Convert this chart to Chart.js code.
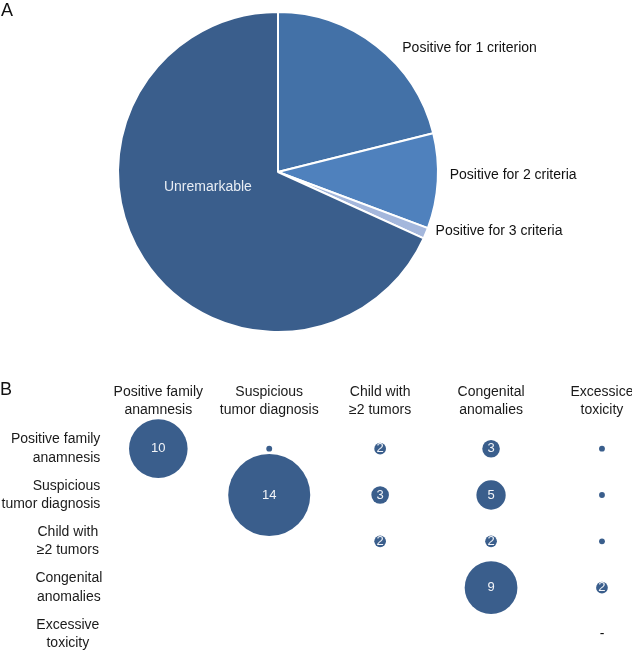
<!DOCTYPE html>
<html><head><meta charset="utf-8">
<script src="https://cdn.jsdelivr.net/npm/chart.js@4"></script>
<style>
html,body{margin:0;padding:0;background:#fff;width:632px;height:651px;overflow:hidden;position:relative;}
canvas{position:absolute;left:0;}
.panel{position:absolute;font-family:"Liberation Sans",Arial,sans-serif;font-size:18px;line-height:18px;color:#111;z-index:2;}
</style></head><body>
<canvas id="pie" width="632" height="355" style="top:0"></canvas>
<canvas id="bub" width="632" height="291" style="top:360px"></canvas>
<div class="panel" style="left:1px;top:1px">A</div>
<div class="panel" style="left:0px;top:380px">B</div>
<script>
// ---- Panel A data ----
const pieLabels = ['Positive for 1 criterion', 'Positive for 2 criteria', 'Positive for 3 criteria', 'Unremarkable'];
const piePercent = [21.1, 9.6, 1.1, 68.2];

// ---- Panel B data ----
const colLabels = [['Positive family', 'anamnesis'], ['Suspicious', 'tumor diagnosis'], ['Child with', '≥2 tumors'], ['Congenital', 'anomalies'], ['Excessice', 'toxicity']];
const rowLabels = [['Positive family', 'anamnesis'], ['Suspicious', 'tumor diagnosis'], ['Child with', '≥2 tumors'], ['Congenital', 'anomalies'], ['Excessive', 'toxicity']];
const rowPositiveFamily = [10, 1, 2, 3, 1];
const rowSuspicious     = [null, 14, 3, 5, 1];
const rowChildTwoTumors = [null, null, 2, 2, 1];
const rowCongenital     = [null, null, null, 9, 2];
const rowToxicity       = [null, null, null, null, 0];

// ---- styles ----
const FONT = '"Liberation Sans", Arial, sans-serif';
const pieColors = ['#4371A7', '#4F81BD', '#A4B7DC', '#3A5E8C'];
const pieLabelStyle = [
  {rf: 1, dx: 25.8, dy: 2.1, align: 'left', color: '#111'},
  {rf: 1, dx: 12, dy: -6, align: 'left', color: '#111'},
  {rf: 1, dx: 9.8, dy: -2.2, align: 'left', color: '#111'},
  {rf: 0.5, dx: -2.8, dy: -28.6, align: 'center', color: '#E8EDF4'}
];
const rowLabelStyle = [
  {align: 'right', gap: 2.5}, {align: 'right', gap: 2.5},
  {align: 'center', gap: 35}, {align: 'center', gap: 34}, {align: 'center', gap: 35}
];
const BUBBLE_COLOR = '#3A5E8C';
const RADIUS_PER_COUNT = 2.93;
const LINE_H = 18.4;

const pieLabelPlugin = {
  id: 'pieLabels',
  afterDatasetsDraw(chart) {
    const ctx = chart.ctx;
    chart.getDatasetMeta(0).data.forEach((arc, i) => {
      const p = arc.getProps(['x', 'y', 'startAngle', 'endAngle', 'outerRadius'], true);
      const mid = (p.startAngle + p.endAngle) / 2;
      const st = pieLabelStyle[i];
      const r = p.outerRadius * st.rf;
      ctx.save();
      ctx.font = '14px ' + FONT;
      ctx.fillStyle = st.color;
      ctx.textAlign = st.align;
      ctx.textBaseline = 'middle';
      ctx.fillText(pieLabels[i], p.x + Math.cos(mid) * r + st.dx, p.y + Math.sin(mid) * r + st.dy);
      ctx.restore();
    });
  }
};

new Chart(document.getElementById('pie'), {
  type: 'pie',
  data: {labels: pieLabels, datasets: [{data: piePercent, backgroundColor: pieColors, borderColor: '#fff', borderWidth: 2}]},
  options: {
    responsive: false, animation: false, radius: 160,
    layout: {autoPadding: false, padding: {left: 118, top: 12, right: 194, bottom: 23}},
    plugins: {legend: {display: false}, tooltip: {enabled: false}}
  },
  plugins: [pieLabelPlugin]
});

const allRows = [rowPositiveFamily, rowSuspicious, rowChildTwoTumors, rowCongenital, rowToxicity];
const bubData = [];
allRows.forEach((row, ri) => row.forEach((v, ci) => {
  if (v !== null) bubData.push({x: ci, y: ri, r: v * RADIUS_PER_COUNT, v: v});
}));

const bubbleLabelPlugin = {
  id: 'bubbleLabels',
  afterDatasetsDraw(chart) {
    const ctx = chart.ctx;
    const ds = chart.data.datasets[0].data;
    chart.getDatasetMeta(0).data.forEach((pt, i) => {
      const v = ds[i].v;
      if (v === 1) return;
      ctx.save();
      ctx.textAlign = 'center';
      ctx.textBaseline = 'middle';
      if (v === 0) {
        ctx.font = '14px ' + FONT;
        ctx.fillStyle = '#111';
        ctx.fillText('-', pt.x, pt.y);
      } else {
        ctx.font = '13px ' + FONT;
        ctx.fillStyle = '#F2F4F8';
        ctx.fillText(String(v), pt.x, pt.y);
      }
      ctx.restore();
    });
  }
};

// row (y-axis) tick labels: positioned by the y scale, with per-row alignment as in the original
const rowTickPlugin = {
  id: 'rowTicks',
  afterDraw(chart) {
    const ctx = chart.ctx, ys = chart.scales.y;
    ctx.save();
    ctx.font = '14px ' + FONT;
    ctx.fillStyle = '#1a1a1a';
    ctx.textBaseline = 'middle';
    ys.ticks.forEach((t, i) => {
      const lines = rowLabels[t.value];
      const st = rowLabelStyle[t.value];
      const y0 = ys.getPixelForValue(t.value) - (lines.length - 1) * LINE_H / 2;
      ctx.textAlign = st.align;
      const x = ys.right - st.gap;
      lines.forEach((ln, k) => ctx.fillText(ln, x, y0 + k * LINE_H));
    });
    ctx.restore();
  }
};

const tickFont = {size: 14, family: FONT, lineHeight: LINE_H / 14};
new Chart(document.getElementById('bub'), {
  type: 'bubble',
  data: {datasets: [{data: bubData, backgroundColor: BUBBLE_COLOR, borderWidth: 0, clip: false}]},
  options: {
    responsive: false, animation: false,
    layout: {autoPadding: false, padding: {left: 0, top: 0, right: 2.3, bottom: 3.1}},
    plugins: {legend: {display: false}, tooltip: {enabled: false}},
    scales: {
      x: {
        type: 'linear', position: 'top', min: -0.5, max: 4.25,
        afterBuildTicks: s => { s.ticks = colLabels.map((_, i) => ({value: i})); },
        afterFit: s => { s.height = 65.5; s.paddingLeft = 0; s.paddingRight = 0; },
        ticks: {callback: v => colLabels[v], autoSkip: false, maxRotation: 0, minRotation: 0, padding: 6, color: '#1a1a1a', font: tickFont},
        grid: {display: false, drawTicks: false}, border: {display: false}
      },
      y: {
        type: 'linear', reverse: true, min: -0.5, max: 4.3,
        afterBuildTicks: s => { s.ticks = rowLabels.map((_, i) => ({value: i})); },
        afterFit: s => { s.width = 102.85; s.paddingTop = 0; s.paddingBottom = 0; },
        ticks: {display: false},
        grid: {display: false, drawTicks: false}, border: {display: false}
      }
    }
  },
  plugins: [bubbleLabelPlugin, rowTickPlugin]
});
</script>
</body></html>
